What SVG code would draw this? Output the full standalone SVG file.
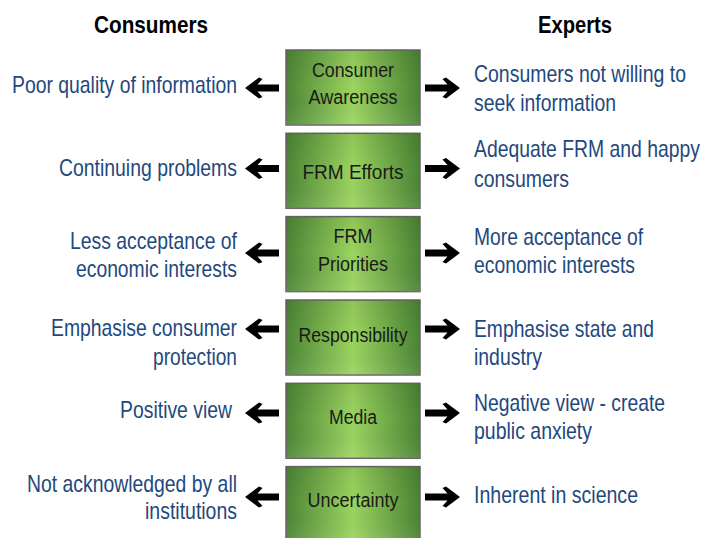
<svg xmlns="http://www.w3.org/2000/svg" xmlns:xlink="http://www.w3.org/1999/xlink" width="702" height="538" viewBox="0 0 702 538">
<style>
.hdr{font-family:"Liberation Sans",Arial,sans-serif;font-weight:bold;font-size:24px;fill:#000;text-anchor:middle}
.side{font-family:"Liberation Sans",Arial,sans-serif;font-size:23px;fill:#1f497d}
.lt{text-anchor:end}
.rt{text-anchor:start}
.lbl{font-family:"Liberation Sans",Arial,sans-serif;font-size:21px;fill:#1a1a1a;text-anchor:middle}
.box{fill:url(#g);stroke:#666;stroke-width:1.5}
.arr{fill:#000}
</style>
<defs>
<linearGradient id="g" x1="0" y1="0" x2="1" y2="0">
<stop offset="0" stop-color="#4c8636"/>
<stop offset="0.5" stop-color="#9cd560"/>
<stop offset="1" stop-color="#4a8434"/>
</linearGradient>
<linearGradient id="gv" x1="0" y1="0" x2="0" y2="1">
<stop offset="0" stop-color="#000" stop-opacity="0.08"/>
<stop offset="0.5" stop-color="#000" stop-opacity="0"/>
<stop offset="1" stop-color="#fff" stop-opacity="0.08"/>
</linearGradient>
<path id="arrL" d="M245,0 L259,-10.5 L262.5,-9 L257.5,-3.5 L279,-3.5 L279,3.5 L257.5,3.5 L262.5,9 L259,10.5 Z"/>
<path id="arrR" d="M460,0 L446,-10.5 L442.5,-9 L447.5,-3.5 L425,-3.5 L425,3.5 L447.5,3.5 L442.5,9 L446,10.5 Z"/>
</defs>
<rect width="702" height="538" fill="#fff"/>

<g id="headers">
<text class="hdr" transform="translate(151,33) scale(0.83,1)" textLength="137.3" lengthAdjust="spacingAndGlyphs">Consumers</text>
<text class="hdr" transform="translate(575,33) scale(0.83,1)" textLength="89.2" lengthAdjust="spacingAndGlyphs">Experts</text>
</g>

<g id="node-awareness">
<rect class="box" x="286" y="50" width="134" height="75"/>
<rect x="286" y="50" width="134" height="75" fill="url(#gv)"/>
<g transform="translate(353,0) scale(0.83,1)">
<text class="lbl" x="0" y="77" textLength="98.8" lengthAdjust="spacingAndGlyphs">Consumer</text>
<text class="lbl" x="0" y="104" textLength="107.2" lengthAdjust="spacingAndGlyphs">Awareness</text>
</g>
</g>
<g id="node-efforts">
<rect class="box" x="286" y="133.3" width="134" height="75"/>
<rect x="286" y="133.3" width="134" height="75" fill="url(#gv)"/>
<g transform="translate(353,0) scale(0.83,1)">
<text class="lbl" x="0" y="179" textLength="121.7" lengthAdjust="spacingAndGlyphs">FRM Efforts</text>
</g>
</g>
<g id="node-priorities">
<rect class="box" x="286" y="216.6" width="134" height="75"/>
<rect x="286" y="216.6" width="134" height="75" fill="url(#gv)"/>
<g transform="translate(353,0) scale(0.83,1)">
<text class="lbl" x="0" y="243" textLength="47" lengthAdjust="spacingAndGlyphs">FRM</text>
<text class="lbl" x="0" y="271" textLength="84.3" lengthAdjust="spacingAndGlyphs">Priorities</text>
</g>
</g>
<g id="node-responsibility">
<rect class="box" x="286" y="300" width="134" height="75"/>
<rect x="286" y="300" width="134" height="75" fill="url(#gv)"/>
<g transform="translate(353,0) scale(0.83,1)">
<text class="lbl" x="0" y="342" textLength="131.3" lengthAdjust="spacingAndGlyphs">Responsibility</text>
</g>
</g>
<g id="node-media">
<rect class="box" x="286" y="383.3" width="134" height="75"/>
<rect x="286" y="383.3" width="134" height="75" fill="url(#gv)"/>
<g transform="translate(353,0) scale(0.83,1)">
<text class="lbl" x="0" y="424" textLength="57.8" lengthAdjust="spacingAndGlyphs">Media</text>
</g>
</g>
<g id="node-uncertainty">
<rect class="box" x="286" y="466.6" width="134" height="75"/>
<rect x="286" y="466.6" width="134" height="75" fill="url(#gv)"/>
<g transform="translate(353,0) scale(0.83,1)">
<text class="lbl" x="0" y="507" textLength="109.6" lengthAdjust="spacingAndGlyphs">Uncertainty</text>
</g>
</g>

<g id="consumers-views" transform="translate(237,0) scale(0.83,1)">
<text class="side lt" x="0" y="93" textLength="271.1" lengthAdjust="spacingAndGlyphs">Poor quality of information</text>
<text class="side lt" x="0" y="176" textLength="214.5" lengthAdjust="spacingAndGlyphs">Continuing problems</text>
<text class="side lt" x="0" y="249" textLength="201.2" lengthAdjust="spacingAndGlyphs">Less acceptance of</text>
<text class="side lt" x="0" y="277" textLength="194" lengthAdjust="spacingAndGlyphs">economic interests</text>
<text class="side lt" x="0" y="336" textLength="224.1" lengthAdjust="spacingAndGlyphs">Emphasise consumer</text>
<text class="side lt" x="0" y="365" textLength="101.2" lengthAdjust="spacingAndGlyphs">protection</text>
<text class="side lt" x="-6" y="418" textLength="134.9" lengthAdjust="spacingAndGlyphs">Positive view</text>
<text class="side lt" x="0" y="492" textLength="253" lengthAdjust="spacingAndGlyphs">Not acknowledged by all</text>
<text class="side lt" x="0" y="519" textLength="110.8" lengthAdjust="spacingAndGlyphs">institutions</text>
</g>

<g id="experts-views" transform="translate(474,0) scale(0.83,1)">
<text class="side rt" x="0" y="82" textLength="255.4" lengthAdjust="spacingAndGlyphs">Consumers not willing to</text>
<text class="side rt" x="0" y="111" textLength="171.1" lengthAdjust="spacingAndGlyphs">seek information</text>
<text class="side rt" x="0" y="157" textLength="272.3" lengthAdjust="spacingAndGlyphs">Adequate FRM and happy</text>
<text class="side rt" x="0" y="187" textLength="114.5" lengthAdjust="spacingAndGlyphs">consumers</text>
<text class="side rt" x="0" y="245" textLength="203.6" lengthAdjust="spacingAndGlyphs">More acceptance of</text>
<text class="side rt" x="0" y="273" textLength="194" lengthAdjust="spacingAndGlyphs">economic interests</text>
<text class="side rt" x="0" y="337" textLength="216.9" lengthAdjust="spacingAndGlyphs">Emphasise state and</text>
<text class="side rt" x="0" y="365" textLength="81.9" lengthAdjust="spacingAndGlyphs">industry</text>
<text class="side rt" x="0" y="411" textLength="230.1" lengthAdjust="spacingAndGlyphs">Negative view - create</text>
<text class="side rt" x="0" y="439" textLength="142.2" lengthAdjust="spacingAndGlyphs">public anxiety</text>
<text class="side rt" x="0" y="503" textLength="197.6" lengthAdjust="spacingAndGlyphs">Inherent in science</text>
</g>

<g id="connectors" class="arr">
<use xlink:href="#arrL" transform="translate(0,88)"/>
<use xlink:href="#arrR" transform="translate(0,88)"/>
<use xlink:href="#arrL" transform="translate(0,168.5)"/>
<use xlink:href="#arrR" transform="translate(0,168.5)"/>
<use xlink:href="#arrL" transform="translate(0,253)"/>
<use xlink:href="#arrR" transform="translate(0,253)"/>
<use xlink:href="#arrL" transform="translate(0,329)"/>
<use xlink:href="#arrR" transform="translate(0,329)"/>
<use xlink:href="#arrL" transform="translate(0,413)"/>
<use xlink:href="#arrR" transform="translate(0,413)"/>
<use xlink:href="#arrL" transform="translate(0,497)"/>
<use xlink:href="#arrR" transform="translate(0,497)"/>
</g>
</svg>
